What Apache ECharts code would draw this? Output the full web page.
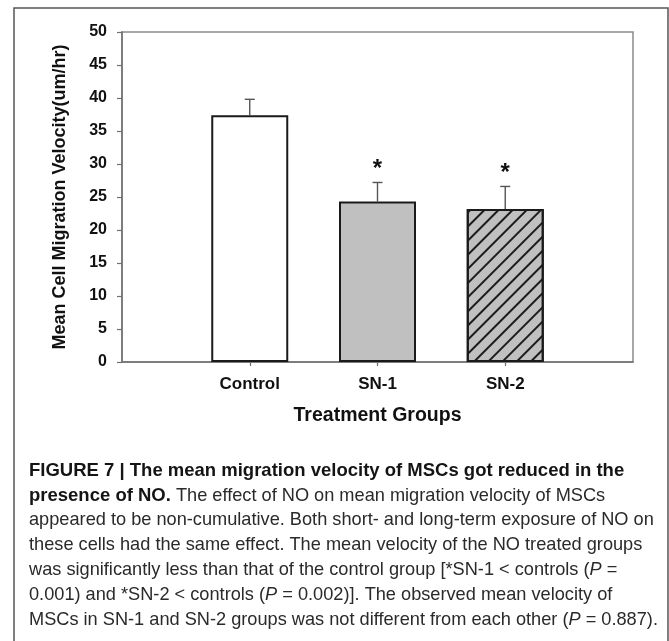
<!DOCTYPE html>
<html>
<head>
<meta charset="utf-8">
<script src="https://cdn.jsdelivr.net/npm/echarts@6/dist/echarts.min.js"></script>
<style>
  html, body { margin: 0; padding: 0; background: #ffffff; }
  #chart { width: 669px; height: 641px; }
</style>
</head>
<body>
<div id="chart"></div>
<script>
// ---- data ----
const categories = ['Control', 'SN-1', 'SN-2'];
const meanVelocity = [37.4, 24.3, 23.2];          // bar heights (um/hr)
const errorTop = [39.8, 27.2, 26.6];              // top of the (upper) error bars
const significance = ['', '*', '*'];              // markers above error bars
const yMin = 0, yMax = 50, yStep = 5;
const yAxisTitle = 'Mean Cell Migration Velocity(um/hr)';
const xAxisTitle = 'Treatment Groups';
const captionLines = [
  [['b', 'FIGURE 7 | The mean migration velocity of MSCs got reduced in the']],
  [['b', 'presence of NO.'], ['n', ' The effect of NO on mean migration velocity of MSCs']],
  [['n', 'appeared to be non-cumulative. Both short- and long-term exposure of NO on']],
  [['n', 'these cells had the same effect. The mean velocity of the NO treated groups']],
  [['n', 'was significantly less than that of the control group [*SN-1 < controls ('], ['i', 'P'], ['n', ' =']],
  [['n', '0.001) and *SN-2 < controls ('], ['i', 'P'], ['n', ' = 0.002)]. The observed mean velocity of']],
  [['n', 'MSCs in SN-1 and SN-2 groups was not different from each other ('], ['i', 'P'], ['n', ' = 0.887).']]
];

// ---- chart ----
const slots = [''].concat(categories, ['']);   // empty slots at both ends of the axis
const barData = [null].concat(meanVelocity.map((v, i) => {
  const styles = [
    { color: '#ffffff' },
    { color: '#c0c0c0' },
    { color: '#c0c0c0', decal: { symbol: 'rect', symbolSize: 1, color: '#1c1c1c',
        dashArrayX: [1, 0], dashArrayY: [2, 7.4], rotation: -Math.PI / 4 } }
  ];
  return { value: v, itemStyle: Object.assign({ borderColor: '#1a1a1a', borderWidth: 2 }, styles[i]) };
}), [null]);
const errData = categories.map((c, i) => [i + 1, meanVelocity[i], errorTop[i], significance[i]]);

const FONT = '"Liberation Sans", Arial, sans-serif';
const chart = echarts.init(document.getElementById('chart'), null, { renderer: 'canvas' });

const captionGraphics = captionLines.map((segs, li) => {
  const text = segs.map(s => '{' + s[0] + '|' + s[1].replace(/[{}]/g, '') + '}').join('');
  return {
    type: 'text', left: 29, top: 471.7 + li * 25 - 10.5,
    style: {
      text: text,
      rich: {
        b: { font: 'bold 18.5px ' + FONT, fill: '#141414' },
        n: { font: '18.2px ' + FONT, fill: '#2a2a2a' },
        i: { font: 'italic 18.2px ' + FONT, fill: '#2a2a2a' }
      }
    }
  };
});

chart.setOption({
  animation: false,
  backgroundColor: '#ffffff',
  grid: { left: 122, top: 32, width: 511, height: 330, show: true,
          borderColor: '#8a8a8a', borderWidth: 1.5, backgroundColor: 'transparent' },
  xAxis: {
    type: 'category', data: slots, boundaryGap: false,
    axisLine: { lineStyle: { color: '#707070', width: 1.5 } },
    axisTick: { length: 4, interval: (i) => i > 0 && i < slots.length - 1,
                lineStyle: { color: '#707070', width: 1.2 } },
    axisLabel: { interval: 0, margin: 14, color: '#111', fontWeight: 'bold', fontSize: 17, fontFamily: FONT },
    name: xAxisTitle, nameLocation: 'middle', nameGap: 44,
    nameTextStyle: { color: '#111', fontWeight: 'bold', fontSize: 19.5, fontFamily: FONT },
    splitLine: { show: false }
  },
  yAxis: {
    type: 'value', min: yMin, max: yMax, interval: yStep,
    axisLine: { show: true, lineStyle: { color: '#707070', width: 1.5 } },
    axisTick: { show: true, length: 5, lineStyle: { color: '#707070', width: 1.2 } },
    axisLabel: { margin: 15, color: '#111', fontWeight: 'bold', fontSize: 16, fontFamily: FONT },
    splitLine: { show: false },
    name: yAxisTitle, nameLocation: 'middle', nameGap: 53, nameRotate: 90,
    nameTextStyle: { color: '#111', fontWeight: 'bold', fontSize: 18, fontFamily: FONT }
  },
  series: [
    { type: 'bar', data: barData, barWidth: 77, z: 2 },
    {
      type: 'custom', z: 3, data: errData,
      renderItem: function (params, api) {
        const x = api.value(0);
        const base = api.coord([x, api.value(1)]);
        const top = api.coord([x, api.value(2)]);
        const mark = errData[params.dataIndex][3];
        const children = [
          { type: 'line', shape: { x1: base[0], y1: base[1], x2: top[0], y2: top[1] },
            style: { stroke: '#555', lineWidth: 1.4 } },
          { type: 'line', shape: { x1: top[0] - 5, y1: top[1], x2: top[0] + 5, y2: top[1] },
            style: { stroke: '#555', lineWidth: 1.4 } }
        ];
        if (mark) {
          children.push({ type: 'text', x: top[0], y: top[1] - 13,
            style: { text: mark, font: 'bold 24px ' + FONT, fill: '#111',
                     textAlign: 'center', textVerticalAlign: 'middle' } });
        }
        return { type: 'group', children: children };
      }
    }
  ],
  graphic: [
    { type: 'rect', shape: { x: 14, y: 8, width: 654, height: 700 },
      style: { fill: 'none', stroke: '#555', lineWidth: 1.5 }, silent: true }
  ].concat(captionGraphics)
});
</script>
</body>
</html>
